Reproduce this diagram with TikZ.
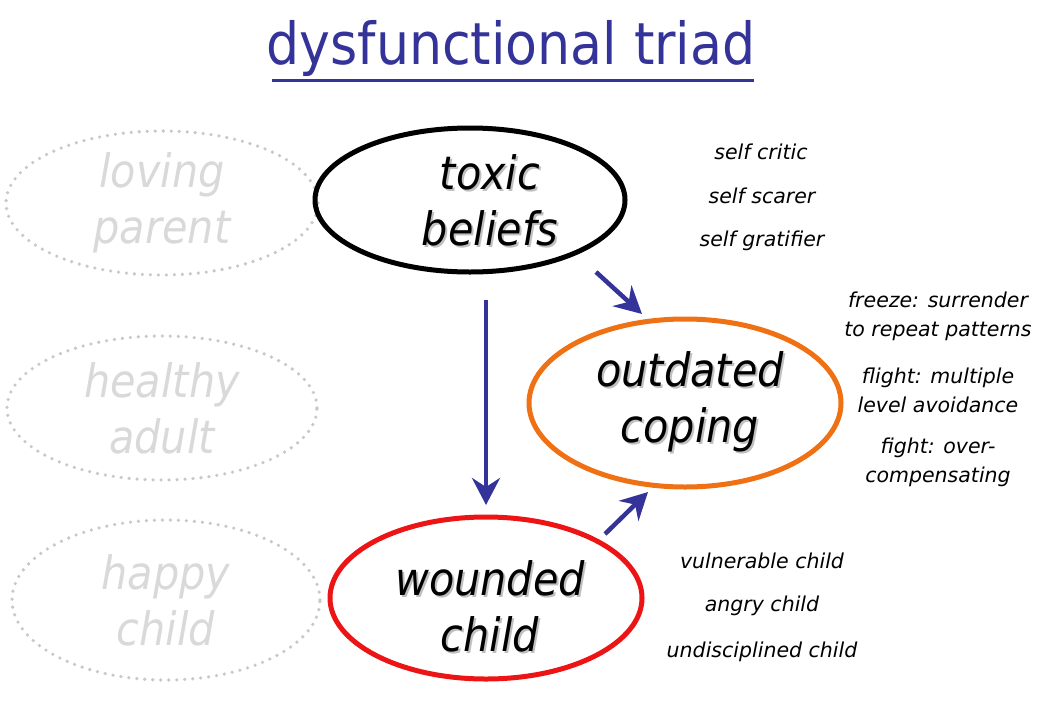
\documentclass[tikz,border=0pt]{standalone}
\usepackage{fontspec}
\setmainfont{DejaVu Sans}
\newfontfamily\tah[FakeStretch=0.9]{DejaVu Sans}
\newfontfamily\tahw{DejaVu Sans}
\usetikzlibrary{shapes.geometric,arrows.meta}
\definecolor{navy}{RGB}{51,51,153}
\definecolor{orng}{RGB}{240,112,20}
\definecolor{redc}{RGB}{236,20,20}
\definecolor{ghost}{RGB}{217,217,217}
\definecolor{ghostline}{RGB}{200,200,200}
\definecolor{shade}{RGB}{150,150,150}
\tikzset{
  x=1pt,y=-1pt,
  bigtxt/.style={font=\tah\itshape\fontsize{46}{56}\selectfont,align=center,inner sep=0pt},
  mainell/.style={ellipse,draw,line width=5pt,bigtxt},
  ghostell/.style={ellipse,draw=ghostline,line width=3.6pt,dash pattern=on 0pt off 8pt,line cap=round,bigtxt,text=ghost},
  side/.style={font=\tahw\itshape\fontsize{20.5}{29}\selectfont,align=center,inner sep=0pt},
  arr/.style={draw=navy,line width=4.5pt,-{Stealth[length=27pt,width=28pt,inset=9pt]}},
}
\begin{document}
\begin{tikzpicture}
\useasboundingbox (0,0) rectangle (1040,720);
% title
\node[font=\tah\fontsize{58}{60}\selectfont,text=navy,inner sep=0pt,anchor=base] (title) at (511,64) {dysfunctional triad};
\draw[navy,line width=3pt] (272,80) coordinate (ul1) -- (754,80) coordinate (ul2);
% ghost ellipses
\node[ghostell,minimum width=312,minimum height=144] (lp) at (162,203) {loving\\parent};
\node[ghostell,minimum width=310,minimum height=144] (ha) at (162,408) {healthy\\adult};
\node[ghostell,minimum width=308,minimum height=160] (hc) at (166,600) {happy\\child};
% shadows
\node[bigtxt,text=shade!60] (tbs) at (492,202) {toxic\\beliefs};
\node[bigtxt,text=shade!60] (ocs) at (692,404) {outdated\\coping};
\node[bigtxt,text=shade!60] (wcs) at (492,608) {wounded\\child};
% main ellipses
\node[mainell,draw=black,minimum width=310,minimum height=144] (tb) at (470,200) {};
\node[bigtxt] (tbt) at (490,200) {toxic\\beliefs};
\node[mainell,draw=orng,minimum width=312,minimum height=168] (oc) at (685,403) {};
\node[bigtxt] (oct) at (690,402) {outdated\\coping};
\node[mainell,draw=redc,minimum width=312,minimum height=162] (wc) at (486,598) {};
\node[bigtxt] (wct) at (490,606) {wounded\\child};
% side texts
\node[side] (s1) at (761,152) {self critic};
\node[side] (s2) at (762,196) {self scarer};
\node[side] (s3) at (762,241) {self gratifier};
\node[side] (c1) at (938,316) {freeze: surrender\\to repeat patterns};
\node[side] (c2) at (938,390) {flight: multiple\\level avoidance};
\node[side] (c3) at (938,462) {fight: over-\\compensating};
\node[side] (w1) at (762,561) {vulnerable child};
\node[side] (w2) at (762,606) {angry child};
\node[side] (w3) at (762,652) {undisciplined child};
% arrows
\coordinate (a1s) at (596,272); \coordinate (a1e) at (642,314);
\coordinate (a2s) at (486,300); \coordinate (a2e) at (486,505);
\coordinate (a3s) at (605,534); \coordinate (a3e) at (648,492);
\draw[arr] (a1s) -- (a1e);
\draw[arr] (a2s) -- (a2e);
\draw[arr] (a3s) -- (a3e);
\end{tikzpicture}
\end{document}
